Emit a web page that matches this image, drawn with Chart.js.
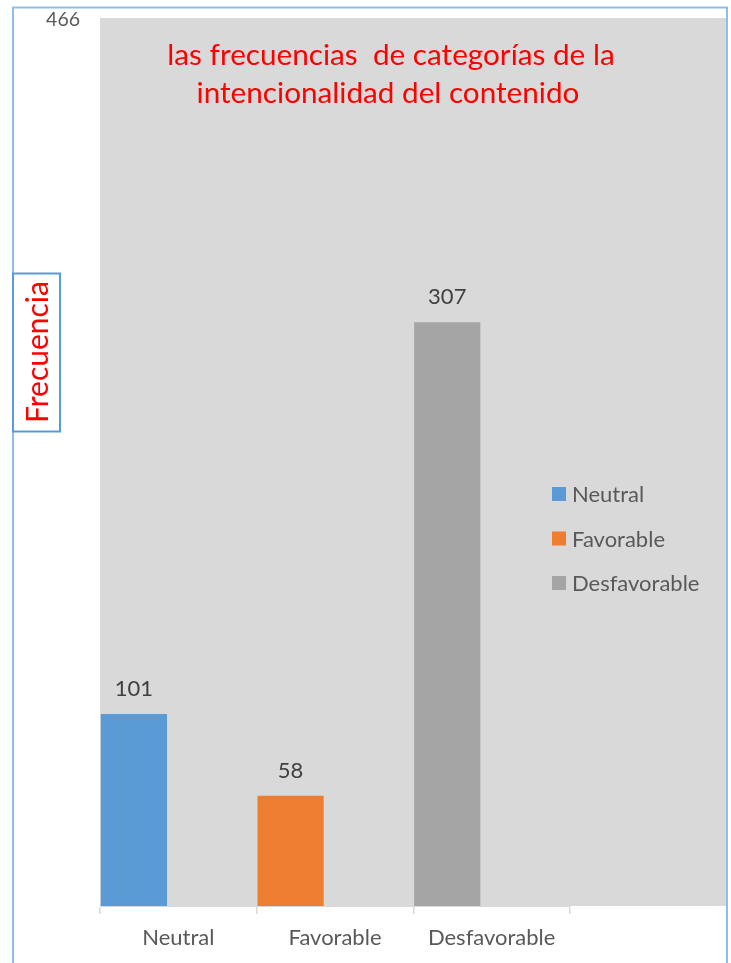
<!DOCTYPE html>
<html>
<head>
<meta charset="utf-8">
<script src="https://cdn.jsdelivr.net/npm/chart.js@4/dist/chart.umd.min.js"></script>
<style>
  html, body { margin: 0; padding: 0; background: #ffffff; }
  #wrap { position: relative; width: 731px; height: 963px; }
</style>
</head>
<body>
<div id="wrap"><canvas id="c" width="731" height="963"></canvas></div>
<script>
// ---- data ----
const categories = ['Neutral', 'Favorable', 'Desfavorable'];
const frequencies = [101, 58, 307];
const barColors = ['#5b9bd5', '#ed7d31', '#a5a5a5'];
const yTickLabels = [466];
const titleLines = ['las frecuencias  de categorías de la', 'intencionalidad del contenido'];
const yAxisTitle = 'Frecuencia';

const FONT = 'Lato, "Open Sans", sans-serif';

// gray plot background + outer frame
const backdrop = {
  id: 'backdrop',
  beforeDraw(chart) {
    const { ctx, chartArea } = chart;
    ctx.save();
    ctx.fillStyle = '#d9d9d9';
    ctx.fillRect(chartArea.left, 18, 726 - chartArea.left, chartArea.bottom - 18);
    ctx.strokeStyle = '#92bde6';
    ctx.lineWidth = 2;
    ctx.beginPath();
    ctx.moveTo(13, 975);
    ctx.lineTo(13, 7.5);
    ctx.lineTo(727, 7.5);
    ctx.lineTo(727, 975);
    ctx.stroke();
    ctx.restore();
  }
};

// title, axis title, data labels, legend
const annotations = {
  id: 'annotations',
  afterDraw(chart) {
    const { ctx } = chart;
    ctx.save();
    // title
    ctx.fillStyle = '#ff0000';
    ctx.font = '29.7px ' + FONT;
    ctx.textAlign = 'center';
    ctx.textBaseline = 'alphabetic';
    ctx.fillText(titleLines[0], 391, 65);
    ctx.fillText(titleLines[1], 388, 103);

    // y-axis title in a box
    ctx.strokeStyle = '#5b9bd5';
    ctx.lineWidth = 2;
    ctx.strokeRect(13, 273.5, 47, 158);
    ctx.translate(48, 352);
    ctx.rotate(-Math.PI / 2);
    ctx.font = '30px ' + FONT;
    ctx.fillStyle = '#ff0000';
    ctx.textAlign = 'center';
    ctx.fillText(yAxisTitle, 0, 0);
    ctx.setTransform(1, 0, 0, 1, 0, 0);

    // data labels
    const meta = chart.getDatasetMeta(0);
    ctx.font = '22px ' + FONT;
    ctx.fillStyle = '#404040';
    ctx.textAlign = 'center';
    meta.data.forEach((bar, i) => {
      ctx.fillText(String(frequencies[i]), bar.x, bar.y - 18);
    });

    // legend
    ctx.font = '22px ' + FONT;
    ctx.textAlign = 'left';
    ctx.textBaseline = 'middle';
    categories.forEach((name, i) => {
      const cy = 494 + i * 44.5;
      ctx.fillStyle = barColors[i];
      ctx.fillRect(552, cy - 7, 14, 14);
      ctx.fillStyle = '#595959';
      ctx.fillText(name, 572, cy + 1);
    });
    ctx.restore();
  }
};

new Chart(document.getElementById('c'), {
  type: 'bar',
  data: {
    labels: categories,
    datasets: [
      {
        label: 'Frecuencia',
        data: frequencies,
        backgroundColor: barColors,
        borderWidth: 0
      },
      {
        label: '',
        data: categories.map(() => null),
        backgroundColor: 'rgba(0,0,0,0)'
      }
    ]
  },
  options: {
    responsive: false,
    animation: false,
    devicePixelRatio: 1,
    categoryPercentage: 1.134,
    barPercentage: 0.745,
    layout: { padding: { top: 20, right: 161, bottom: 0, left: 0 } },
    plugins: {
      legend: { display: false },
      title: { display: false },
      tooltip: { enabled: false }
    },
    scales: {
      x: {
        grid: {
          display: true,
          drawOnChartArea: false,
          drawTicks: true,
          tickLength: 8,
          color: '#d9d9d9',
          lineWidth: 1.5
        },
        border: { display: true, color: '#d9d9d9', width: 1 },
        ticks: {
          color: '#595959',
          font: { family: FONT, size: 22 },
          padding: 11,
          maxRotation: 0
        },
        afterFit(scale) { scale.height = 57; }
      },
      y: {
        min: 0,
        max: Math.max(...yTickLabels),
        grid: { display: false, drawTicks: false },
        border: { display: false },
        ticks: {
          color: '#595959',
          font: { family: FONT, size: 19.5 },
          padding: 20
        },
        afterBuildTicks(scale) {
          scale.ticks = yTickLabels.map(v => ({ value: v }));
        },
        afterFit(scale) {
          scale.width = 100;
          scale.paddingTop = 0;
          scale.paddingBottom = 0;
        }
      }
    }
  },
  plugins: [backdrop, annotations]
});
</script>
</body>
</html>
